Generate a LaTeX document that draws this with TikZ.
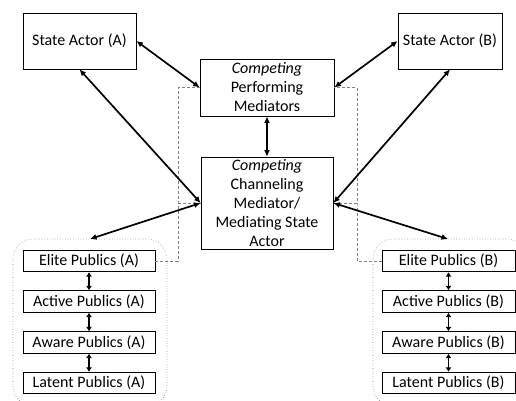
\documentclass[tikz,border=0pt]{standalone}
\usepackage{fontspec}
\setmainfont{Carlito}
\usetikzlibrary{arrows.meta}

\begin{document}
\begin{tikzpicture}[x=1pt,y=-1pt,
  box/.style={draw,line width=0.8pt,align=center,inner sep=0pt,font=\fontsize{16}{19}\selectfont},
  pub/.style={box,minimum height=21.5pt},
  link/.style={{Latex[length=6.5pt,width=6pt]}-{Latex[length=6.5pt,width=6pt]},line width=1.7pt},
  tiny/.style={{Latex[length=4.5pt,width=6pt]}-{Latex[length=4.5pt,width=6pt]},line width=1.8pt},
  tie/.style={draw=gray,dashed,dash pattern=on 3pt off 2pt,line width=0.8pt},
  grp/.style={draw=gray,dotted,line width=0.6pt,rounded corners=20pt}]
\useasboundingbox (0,0) rectangle (516,401);

\begin{scope}
\clip (0,0) rectangle (516,401);
\draw[grp] (13,239) rectangle (167,406);
\draw[grp] (373,239) rectangle (527,406);
\end{scope}
\coordinate (gA) at (90,239);
\coordinate (gB) at (448,239);

\node[box,minimum width=113pt,minimum height=56pt] (stA) at (79.5,41) {State Actor (A)};
\node[box,minimum width=104pt,minimum height=56pt] (stB) at (450,41) {State Actor (B)};
\node[box,minimum width=134pt,minimum height=57pt] (perf) at (267,87.5) {\textit{Competing}\\Performing\\Mediators};
\node[box,minimum width=132pt,minimum height=92pt] (chan) at (267,203) {\textit{Competing}\\Channeling\\Mediator/\\Mediating State\\Actor};

\node[pub,minimum width=132pt] (eA) at (89,261) {Elite Publics (A)};
\node[pub,minimum width=132pt] (acA) at (89,301.5) {Active Publics (A)};
\node[pub,minimum width=132pt] (awA) at (89,342.5) {Aware Publics (A)};
\node[pub,minimum width=132pt] (laA) at (89,383) {Latent Publics (A)};

\node[pub,minimum width=133pt] (eB) at (448.5,261) {Elite Publics (B)};
\node[pub,minimum width=133pt] (acB) at (448.5,301.5) {Active Publics (B)};
\node[pub,minimum width=133pt] (awB) at (448.5,342.5) {Aware Publics (B)};
\node[pub,minimum width=133pt] (laB) at (448.5,383) {Latent Publics (B)};

% dashed ties from the elite publics
\coordinate (jA) at (178,203);
\coordinate (jB) at (357,203);
\draw[tie] (eA.east) -| (jA) |- (perf.west);
\draw[tie] (jA) -- (chan.west);
\draw[tie] (eB.west) -| (jB) |- (perf.east);
\draw[tie] (jB) -- (chan.east);

\draw[link] (stA.east) -- (perf.west);
\draw[link] (stA.south) -- (chan.west);
\draw[link] (chan.west) -- (gA);
\draw[link] (perf.south) -- (chan.north);
\draw[link] (perf.east) -- (stB.west);
\draw[link] (chan.east) -- (stB.south);
\draw[link] (chan.east) -- (gB);

\draw[tiny] (eA.south) -- (acA.north);
\draw[tiny] (acA.south) -- (awA.north);
\draw[tiny] (awA.south) -- (laA.north);
\draw[tiny] (eB.south) -- (acB.north);
\draw[tiny] (acB.south) -- (awB.north);
\draw[tiny] (awB.south) -- (laB.north);

\end{tikzpicture}
\end{document}
